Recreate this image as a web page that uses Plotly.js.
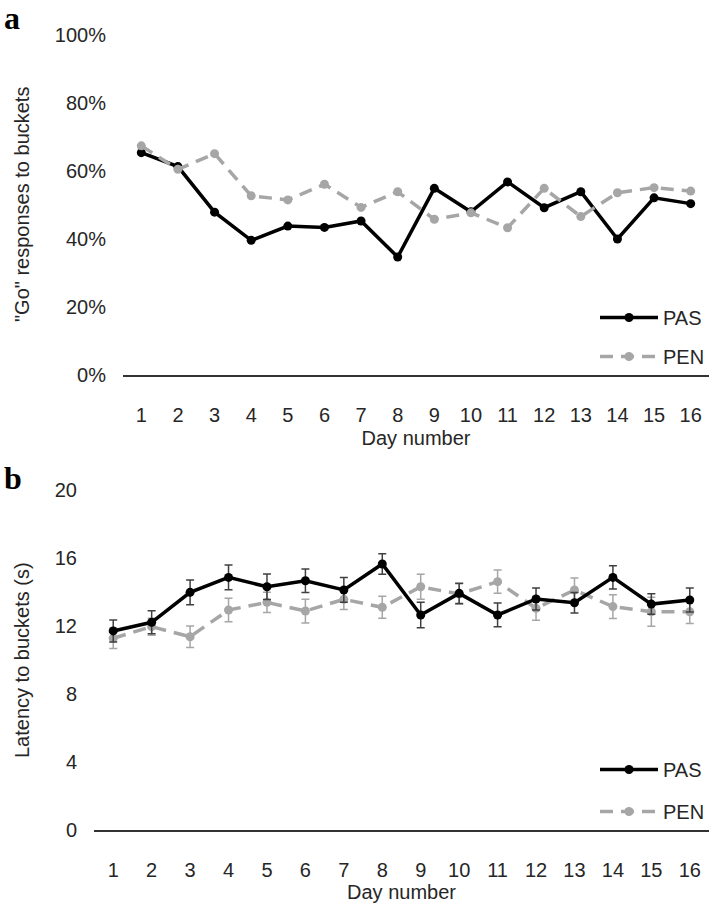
<!DOCTYPE html>
<html>
<head>
<meta charset="utf-8">
<script src="https://cdn.plot.ly/plotly-3.0.1.min.js"></script>
<style>
  body { margin: 0; background: #fff; }
  #chart { width: 710px; height: 908px; }
</style>
</head>
<body>
<div id="chart"></div>
<script>
// days on the x axis
var days = ['1','2','3','4','5','6','7','8','9','10','11','12','13','14','15','16'];

// panel a: proportion of "Go" responses
var goPAS = [0.654, 0.613, 0.479, 0.396, 0.438, 0.434, 0.453, 0.347, 0.549, 0.480, 0.568, 0.492, 0.539, 0.400, 0.521, 0.504];
var goPEN = [0.674, 0.605, 0.651, 0.527, 0.515, 0.561, 0.493, 0.539, 0.458, 0.477, 0.433, 0.549, 0.466, 0.536, 0.551, 0.541];

// panel b: latency (s) with error bars
var latPAS = [11.71, 12.22, 13.98, 14.86, 14.31, 14.66, 14.12, 15.65, 12.65, 13.92, 12.65, 13.59, 13.37, 14.86, 13.29, 13.53];
var latPASerr = [0.65, 0.67, 0.73, 0.73, 0.75, 0.69, 0.73, 0.60, 0.75, 0.60, 0.70, 0.65, 0.60, 0.68, 0.60, 0.70];
var latPEN = [11.28, 11.96, 11.37, 12.94, 13.39, 12.88, 13.57, 13.10, 14.31, 13.88, 14.61, 13.04, 14.12, 13.14, 12.84, 12.84];
var latPENerr = [0.60, 0.50, 0.63, 0.69, 0.60, 0.70, 0.60, 0.65, 0.73, 0.60, 0.69, 0.70, 0.70, 0.70, 0.85, 0.70];

var black = '#000000';
var grey = '#a6a6a6';
var txt = '#262626';
var font = 'Liberation Sans, Arial, sans-serif';

var traces = [
  {
    x: days, y: goPAS, name: 'PAS', type: 'scatter', mode: 'lines+markers',
    xaxis: 'x', yaxis: 'y', legend: 'legend', legendgroup: 'a1', legendrank: 1,
    line: {color: black, width: 3.5},
    marker: {color: black, size: 9}
  },
  {
    x: days, y: goPEN, name: 'PEN', type: 'scatter', mode: 'lines+markers',
    xaxis: 'x', yaxis: 'y', legend: 'legend', legendgroup: 'a2', legendrank: 2,
    line: {color: grey, width: 3.5, dash: '13px,8px'},
    marker: {color: grey, size: 9}
  },
  {
    x: days, y: latPEN, name: 'PEN', type: 'scatter', mode: 'lines+markers',
    xaxis: 'x2', yaxis: 'y2', legend: 'legend2', legendgroup: 'b2', legendrank: 2,
    line: {color: grey, width: 3.5, dash: '13px,8px'},
    marker: {color: grey, size: 9},
    error_y: {type: 'data', array: latPENerr, visible: true, color: grey, thickness: 1.5, width: 4}
  },
  {
    x: days, y: latPAS, name: 'PAS', type: 'scatter', mode: 'lines+markers',
    xaxis: 'x2', yaxis: 'y2', legend: 'legend2', legendgroup: 'b1', legendrank: 1,
    line: {color: black, width: 3.5},
    marker: {color: black, size: 9},
    error_y: {type: 'data', array: latPASerr, visible: true, color: '#404040', thickness: 1.5, width: 4}
  }
];

function xAxis(domain, anchor, standoff) {
  return {
    domain: domain, anchor: anchor, type: 'category',
    range: [-0.5, 15.5], showgrid: false, zeroline: false,
    showline: true, linecolor: '#333', linewidth: 1.5,
    ticks: '', ticklabelstandoff: 21,
    tickfont: {family: font, size: 20, color: txt},
    title: {text: 'Day number', font: {family: font, size: 20, color: txt}, standoff: standoff}
  };
}

function yTitle(text, yPix) {
  return {
    text: text, xref: 'paper', yref: 'paper', x: 22 / 710, y: (908 - yPix) / 908,
    xanchor: 'center', yanchor: 'middle', textangle: -90, showarrow: false,
    font: {family: font, size: 20, color: txt}
  };
}

var layout = {
  width: 710, height: 908,
  margin: {l: 0, r: 0, t: 0, b: 0},
  paper_bgcolor: '#fff', plot_bgcolor: '#fff',
  font: {family: font, color: txt},
  showlegend: true,
  xaxis: xAxis([123 / 710, 709 / 710], 'y', 6),
  xaxis2: xAxis([94 / 710, 709 / 710], 'y2', 5),
  yaxis: {
    domain: [(908 - 375) / 908, (908 - 35) / 908], anchor: 'x',
    range: [0, 1], dtick: 0.2, tickformat: '.0%',
    showgrid: false, zeroline: false, showline: false, ticks: '', ticklabelstandoff: 16,
    tickfont: {family: font, size: 20, color: txt}
  },
  yaxis2: {
    domain: [(908 - 830) / 908, (908 - 490) / 908], anchor: 'x2',
    range: [0, 20], dtick: 4,
    showgrid: false, zeroline: false, showline: false, ticks: '', ticklabelstandoff: 16,
    tickfont: {family: font, size: 20, color: txt}
  },
  legend: {
    x: 1, xanchor: 'right', y: (908 - 298) / 908, yanchor: 'top',
    traceorder: 'grouped', tracegroupgap: 10, itemwidth: 58,
    font: {family: font, size: 20, color: txt}, bgcolor: 'rgba(0,0,0,0)'
  },
  legend2: {
    x: 1, xanchor: 'right', y: (908 - 750) / 908, yanchor: 'top',
    traceorder: 'grouped', tracegroupgap: 13, itemwidth: 58,
    font: {family: font, size: 20, color: txt}, bgcolor: 'rgba(0,0,0,0)'
  },
  annotations: [
    yTitle('"Go" responses to buckets', 205),
    yTitle('Latency to buckets (s)', 660),
    {text: '<b>a</b>', xref: 'paper', yref: 'paper', x: 0.003, y: 1.002, xanchor: 'left', yanchor: 'top',
     showarrow: false, font: {family: 'Liberation Serif, Times New Roman, serif', size: 32, color: '#000'}},
    {text: '<b>b</b>', xref: 'paper', yref: 'paper', x: 0.003, y: (908 - 458) / 908, xanchor: 'left', yanchor: 'top',
     showarrow: false, font: {family: 'Liberation Serif, Times New Roman, serif', size: 32, color: '#000'}}
  ]
};

Plotly.newPlot('chart', traces, layout, {displayModeBar: false, staticPlot: true});
</script>
</body>
</html>
